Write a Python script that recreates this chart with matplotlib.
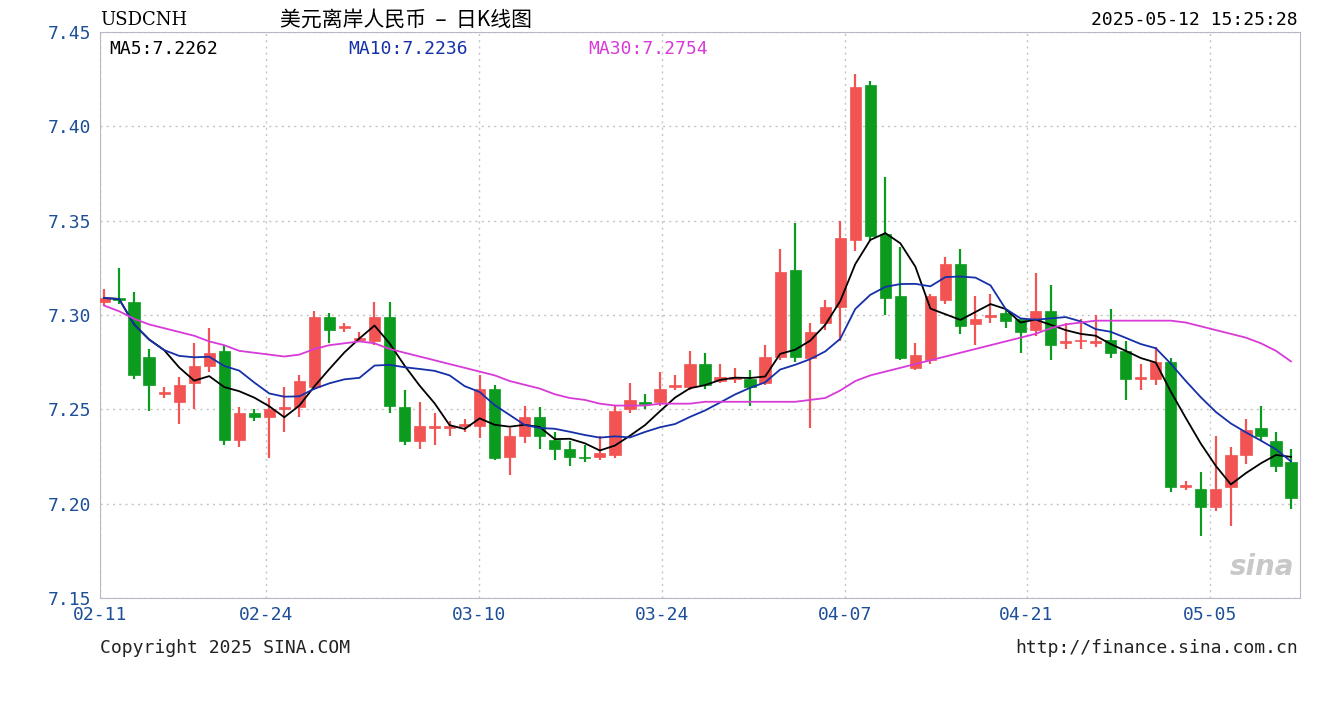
import numpy as np
import pandas as pd
import matplotlib
matplotlib.use("Agg")
import matplotlib.pyplot as plt

plt.rcParams['font.family'] = ['DejaVu Sans Mono', 'Noto Sans CJK SC']

# daily candles
opens = [7.307, 7.309, 7.307, 7.278, 7.258, 7.254, 7.264, 7.273, 7.281, 7.234,
         7.248, 7.246, 7.250, 7.251, 7.262, 7.299, 7.293, 7.287, 7.286, 7.299,
         7.251, 7.233, 7.240, 7.240, 7.241, 7.241, 7.261, 7.225, 7.236, 7.246,
         7.234, 7.229, 7.225, 7.225, 7.226, 7.250, 7.254, 7.254, 7.262, 7.262,
         7.274, 7.265, 7.266, 7.266, 7.264, 7.278, 7.324, 7.277, 7.296, 7.304,
         7.340, 7.422, 7.343, 7.310, 7.272, 7.276, 7.308, 7.327, 7.295, 7.299,
         7.301, 7.298, 7.292, 7.302, 7.285, 7.286, 7.285, 7.287, 7.281, 7.266,
         7.266, 7.275, 7.209, 7.208, 7.198, 7.209, 7.226, 7.240, 7.233, 7.222]
closes = [7.309, 7.308, 7.268, 7.263, 7.259, 7.263, 7.273, 7.280, 7.234, 7.248,
          7.246, 7.250, 7.251, 7.265, 7.299, 7.292, 7.294, 7.288, 7.299, 7.252,
          7.233, 7.241, 7.241, 7.241, 7.242, 7.261, 7.224, 7.236, 7.246, 7.236,
          7.229, 7.225, 7.224, 7.227, 7.249, 7.255, 7.253, 7.261, 7.263, 7.274,
          7.263, 7.267, 7.267, 7.262, 7.278, 7.323, 7.278, 7.291, 7.304, 7.341,
          7.421, 7.342, 7.309, 7.277, 7.279, 7.310, 7.327, 7.294, 7.298, 7.300,
          7.297, 7.291, 7.302, 7.284, 7.286, 7.287, 7.286, 7.280, 7.266, 7.267,
          7.275, 7.209, 7.210, 7.198, 7.208, 7.226, 7.239, 7.236, 7.220, 7.203]
highs = [7.314, 7.325, 7.312, 7.282, 7.262, 7.267, 7.285, 7.293, 7.284, 7.251,
         7.250, 7.256, 7.262, 7.268, 7.302, 7.301, 7.296, 7.291, 7.307, 7.307,
         7.260, 7.254, 7.248, 7.244, 7.245, 7.268, 7.263, 7.240, 7.252, 7.251,
         7.238, 7.233, 7.231, 7.236, 7.252, 7.264, 7.258, 7.270, 7.268, 7.281,
         7.280, 7.274, 7.272, 7.271, 7.284, 7.335, 7.349, 7.296, 7.308, 7.350,
         7.428, 7.424, 7.373, 7.336, 7.285, 7.311, 7.331, 7.335, 7.310, 7.311,
         7.303, 7.295, 7.322, 7.316, 7.296, 7.298, 7.300, 7.303, 7.286, 7.274,
         7.283, 7.277, 7.212, 7.217, 7.236, 7.230, 7.245, 7.252, 7.238, 7.229]
lows = [7.305, 7.306, 7.266, 7.249, 7.256, 7.242, 7.250, 7.270, 7.231, 7.230,
        7.244, 7.224, 7.238, 7.246, 7.260, 7.285, 7.291, 7.286, 7.284, 7.248,
        7.231, 7.229, 7.231, 7.236, 7.238, 7.235, 7.223, 7.215, 7.232, 7.229,
        7.223, 7.220, 7.222, 7.223, 7.224, 7.248, 7.250, 7.252, 7.260, 7.260,
        7.261, 7.264, 7.264, 7.252, 7.263, 7.276, 7.275, 7.240, 7.292, 7.286,
        7.334, 7.339, 7.300, 7.276, 7.271, 7.274, 7.306, 7.290, 7.284, 7.296,
        7.293, 7.280, 7.289, 7.276, 7.282, 7.282, 7.283, 7.277, 7.255, 7.260,
        7.263, 7.206, 7.207, 7.183, 7.196, 7.188, 7.221, 7.233, 7.217, 7.197]
ma30 = [7.305, 7.302, 7.298, 7.295, 7.293, 7.291, 7.289, 7.286, 7.284, 7.281,
        7.280, 7.279, 7.278, 7.279, 7.282, 7.284, 7.285, 7.286, 7.285, 7.282,
        7.280, 7.278, 7.276, 7.274, 7.272, 7.270, 7.268, 7.265, 7.263, 7.261,
        7.258, 7.256, 7.255, 7.253, 7.252, 7.252, 7.252, 7.253, 7.253, 7.253,
        7.254, 7.254, 7.254, 7.254, 7.254, 7.254, 7.254, 7.255, 7.256, 7.260,
        7.265, 7.268, 7.270, 7.272, 7.274, 7.276, 7.278, 7.280, 7.282, 7.284,
        7.286, 7.288, 7.290, 7.293, 7.295, 7.296, 7.297, 7.297, 7.297, 7.297,
        7.297, 7.297, 7.296, 7.294, 7.292, 7.290, 7.288, 7.285, 7.281, 7.2754]

legend_labels = ['MA5:7.2262', 'MA10:7.2236', 'MA30:7.2754']
tick_pos = [-0.27, 10.78, 24.95, 37.13, 49.3, 61.4, 73.6]
tick_labels = ['02-11', '02-24', '03-10', '03-24', '04-07', '04-21', '05-05']
yticks = [7.15, 7.20, 7.25, 7.30, 7.35, 7.40, 7.45]

RED = '#f25454'
GREEN = '#0b9b1f'
TXT = '#1c4f98'
MA_COLORS = ['black', '#1530a8', '#d83ad8']

df = pd.DataFrame({'o': opens, 'h': highs, 'l': lows, 'c': closes})
ma5 = df['c'].rolling(5, min_periods=1).mean()
ma10 = df['c'].rolling(10, min_periods=1).mean()
idx = np.arange(len(df))

fig = plt.figure(figsize=(13.2, 7.2), dpi=100)
ax = fig.add_axes([100/1320, 1-598/720, 1200/1320, 566/720])

for i, r in df.iterrows():
    col = RED if r.c >= r.o else GREEN
    ax.vlines(i, r.l, r.h, color=col, lw=1.6, zorder=2)
    lo, hi = min(r.o, r.c), max(r.o, r.c)
    ax.bar(i, max(hi - lo, 0.0008), bottom=lo, width=0.75, color=col, edgecolor=col, lw=0.5, zorder=3)

for series, col in zip([ma5, ma10, ma30], MA_COLORS):
    ax.plot(idx, series, color=col, lw=1.3, zorder=4)

ax.set_xlim(-0.27, 79.6)
ax.set_ylim(7.15, 7.45)
ax.set_yticks(yticks)
ax.set_yticklabels([f'{v:.2f}' for v in yticks], color=TXT, fontsize=13)
ax.set_xticks(tick_pos)
ax.set_xticklabels(tick_labels, color=TXT, fontsize=13)
ax.tick_params(length=0, pad=6)
ax.grid(True, color='#c4c4c4', ls=(0, (1.5, 3)), lw=1)
for s in ax.spines.values():
    s.set_color('#b8b8c8')

for xpos, lab, col in zip([0.008, 0.207, 0.407], legend_labels, MA_COLORS):
    ax.text(xpos, 0.985, lab, transform=ax.transAxes, va='top', fontsize=13, color=col)
ax.text(0.995, 0.03, 'sina', transform=ax.transAxes, ha='right', va='bottom', fontsize=20,
        style='italic', weight='bold', color='#c8c8c8', family='DejaVu Sans')

fig.text(100/1320, 1-20/720, 'USDCNH', fontsize=13, color='black', va='center', family='DejaVu Serif')
fig.text(280/1320, 1-20/720, '美元离岸人民币  –  日K线图', fontsize=15, va='center',
         family=['Noto Sans CJK SC', 'DejaVu Sans'])
fig.text(1298/1320, 1-20/720, '2025-05-12 15:25:28', fontsize=13, ha='right', va='center')
fig.text(100/1320, 1-648/720, 'Copyright 2025 SINA.COM', fontsize=13, va='center', color='#222222')
fig.text(1298/1320, 1-648/720, 'http://finance.sina.com.cn', fontsize=13, ha='right', va='center', color='#222222')

fig.savefig('out.png', dpi=100)
